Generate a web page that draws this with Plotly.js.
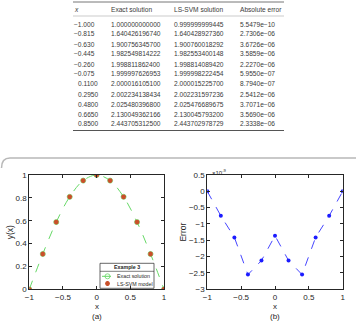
<!DOCTYPE html>
<html><head><meta charset="utf-8">
<script src="https://cdn.plot.ly/plotly-3.0.1.min.js"></script>
<style>html,body{margin:0;padding:0;background:#fff}#c{width:356px;height:329px}</style>
</head><body><div id="c"></div>
<script>
// ---- table data ----
const tableHeader = ['<i>x</i>', 'Exact solution', 'LS-SVM solution', 'Absolute error'];
const tableX = ['\u22121.000','\u22120.815','\u22120.630','\u22120.445','\u22120.260','\u22120.075','0.1100','0.2950','0.4800','0.6650','0.8500'];
const tableExact = ['1.000000000000','1.640426196740','1.900756345700','1.982549814222','1.998811862400','1.999997626953','2.000016105100','2.002234138434','2.025480396800','2.130049362166','2.443705312500'];
const tableLSSVM = ['0.999999999445','1.640428927360','1.900760018292','1.982553400148','1.998814089420','1.999998222454','2.000015225700','2.002231597236','2.025476689675','2.130045793200','2.443702978729'];
const tableAbsErr = ['5.5479e\u221210','2.7306e\u221206','3.6726e\u221206','3.5859e\u221206','2.2270e\u221206','5.9550e\u221207','8.7940e\u221207','2.5412e\u221206','3.7071e\u221206','3.5690e\u221206','2.3338e\u221206'];

// ---- plot data ----
const xPts = [-1, -0.8, -0.6, -0.4, -0.2, 0, 0.2, 0.4, 0.6, 0.8, 1];
const yExact = [0, 0.309, 0.588, 0.809, 0.951, 1, 0.951, 0.809, 0.588, 0.309, 0];
const yModel = [0, 0.309, 0.588, 0.809, 0.951, 1, 0.951, 0.809, 0.588, 0.309, 0];
const errE9 = [0, -0.75, -1.41, -2.55, -2.12, -1.36, -2.12, -2.55, -1.41, -0.75, 0]; // units of 1e-9
const legendNames = ['Exact solution', 'LS-SVM model'];
const legendTitle = 'Example 3';

const W = 356, H = 329;
const px = x => x / W, py = y => 1 - y / H;
const FONT = 'Liberation Sans, Arial, sans-serif';
const tfont = {family: FONT, size: 6.6, color: '#3a3a3a'};
const dark = '#262626';

const exactLine = {color: '#66d866', width: 1, dash: 'dash'};
const exactMarker = {symbol: 'circle-open', size: 5, color: '#66d866', line: {width: 0.8}};
const modelMarker = {symbol: 'asterisk-open', size: 4, color: '#c9502a', line: {width: 1.5, color: '#c9502a'}};

const traces = [
  {x: xPts, y: yExact, xaxis: 'x', yaxis: 'y', name: legendNames[0], type: 'scatter',
   mode: 'lines+markers', line: Object.assign({shape: 'spline'}, exactLine), marker: exactMarker},
  {x: xPts, y: yModel, xaxis: 'x', yaxis: 'y', name: legendNames[1], type: 'scatter',
   mode: 'markers', marker: modelMarker},
  {x: xPts, y: errE9, xaxis: 'x2', yaxis: 'y2', type: 'scatter',
   mode: 'lines+markers', line: {color: '#4646ff', width: 1, dash: 'dash'},
   marker: {symbol: 'circle', size: 4, color: '#1c1cff'}},
  // legend samples (drawn on a hidden helper axis whose range is in legend-box pixels)
  {x: [102, 113], y: [276.3, 276.3], xaxis: 'x3', yaxis: 'y3', type: 'scatter', mode: 'lines', line: exactLine, hoverinfo: 'skip'},
  {x: [107.5], y: [276.3], xaxis: 'x3', yaxis: 'y3', type: 'scatter', mode: 'markers', marker: exactMarker, hoverinfo: 'skip'},
  {x: [107.5], y: [283.5], xaxis: 'x3', yaxis: 'y3', type: 'scatter', mode: 'markers', marker: modelMarker, hoverinfo: 'skip'}
];

const axBase = {showgrid: false, zeroline: false, showline: true, linecolor: dark, linewidth: 1,
  mirror: 'ticks', ticks: 'inside', ticklen: 3, tickcolor: dark,
  tickfont: {family: FONT, size: 8, color: dark}};
const titleFont = {family: FONT, size: 8.5, color: dark};

function txt(x, y, text, font, xanchor) {
  return {xref: 'paper', yref: 'paper', x: px(x), y: py(y), xanchor: xanchor || 'center', yanchor: 'middle',
          text: text, showarrow: false, font: font, borderpad: 0};
}

// table built as text from the arrays
const colX = [72.5, 110, 173, 238.5];
const rowY0 = 24, rowStep = 10;
const annotations = [];
tableHeader.forEach((h, j) => annotations.push(txt(colX[j], 9.5, h, tfont, 'left')));
[tableX, tableExact, tableLSSVM, tableAbsErr].forEach((col, j) => col.forEach((v, i) => {
  const shift = (j === 0 && v[0] !== '\u2212') ? 4.2 : 0;
  annotations.push(txt(colX[j] + shift, rowY0 + i * rowStep, v, tfont, 'left'));
}));

const lf = {family: FONT, size: 5.3, color: dark};
const lab = {family: FONT, size: 8, color: dark};
const xt = {family: FONT, size: 8, color: dark};
annotations.push(
  txt(96.7, 306.3, 'x', xt),
  txt(275, 306.3, 'x', xt),
  txt(96.7, 316, '(a)', lab),
  txt(275, 316, '(b)', lab),
  txt(211, 172, '\u00d710<sup>-9</sup>', {family: FONT, size: 6, color: dark}, 'left'),
  txt(127, 267.3, '<b>' + legendTitle + '</b>', lf),
  txt(116, 276.3, legendNames[0], lf, 'left'),
  txt(116, 283.5, legendNames[1], lf, 'left')
);

const layout = {
  width: W, height: H, margin: {l: 0, r: 0, t: 0, b: 0},
  paper_bgcolor: '#fff', plot_bgcolor: 'rgba(0,0,0,0)', showlegend: false,
  xaxis: Object.assign({}, axBase, {domain: [px(29.3), px(164)], range: [-1, 1], dtick: 0.5, tick0: -1}),
  yaxis: Object.assign({}, axBase, {domain: [py(289.3), py(175)], range: [0, 1], dtick: 0.2,
    title: {text: 'y(x)', font: titleFont, standoff: 0}}),
  xaxis2: Object.assign({}, axBase, {domain: [px(207.3), px(342.7)], range: [-1, 1], dtick: 0.5, tick0: -1, anchor: 'y2'}),
  yaxis2: Object.assign({}, axBase, {domain: [py(289.3), py(175)], range: [-3, 0.5], dtick: 0.5, anchor: 'x2',
    title: {text: 'Error', font: titleFont, standoff: 0}}),
  xaxis3: {domain: [px(100), px(154)], range: [100, 154], visible: false, anchor: 'y3', fixedrange: true},
  yaxis3: {domain: [py(288.3), py(263.3)], range: [288.3, 263.3], visible: false, anchor: 'x3', fixedrange: true},
  annotations: annotations,
  shapes: [
    {type: 'line', xref: 'paper', yref: 'paper', x0: px(73), x1: px(284), y0: py(2), y1: py(2), line: {color: '#777', width: 1}},
    {type: 'line', xref: 'paper', yref: 'paper', x0: px(73), x1: px(284), y0: py(16), y1: py(16), line: {color: '#aaa', width: 0.6}},
    {type: 'line', xref: 'paper', yref: 'paper', x0: px(73), x1: px(284), y0: py(130.5), y1: py(130.5), line: {color: '#555', width: 1}},
    {type: 'path', xref: 'paper', yref: 'paper',
     path: `M ${px(1.5)} ${py(168)} Q ${px(1.5)} ${py(158)} ${px(10)} ${py(158)} L ${px(356)} ${py(158)}`,
     line: {color: '#b8b8b8', width: 1.5}},
    {type: 'rect', xref: 'paper', yref: 'paper', x0: px(100), x1: px(154), y0: py(263.3), y1: py(288.3),
     fillcolor: '#fff', line: {color: dark, width: 0.7}, layer: 'below'},
    {type: 'line', xref: 'paper', yref: 'paper', x0: px(100), x1: px(154), y0: py(271.3), y1: py(271.3), line: {color: dark, width: 0.6}}
  ]
};

Plotly.newPlot('c', traces, layout, {staticPlot: true, displayModeBar: false});
</script></body></html>
